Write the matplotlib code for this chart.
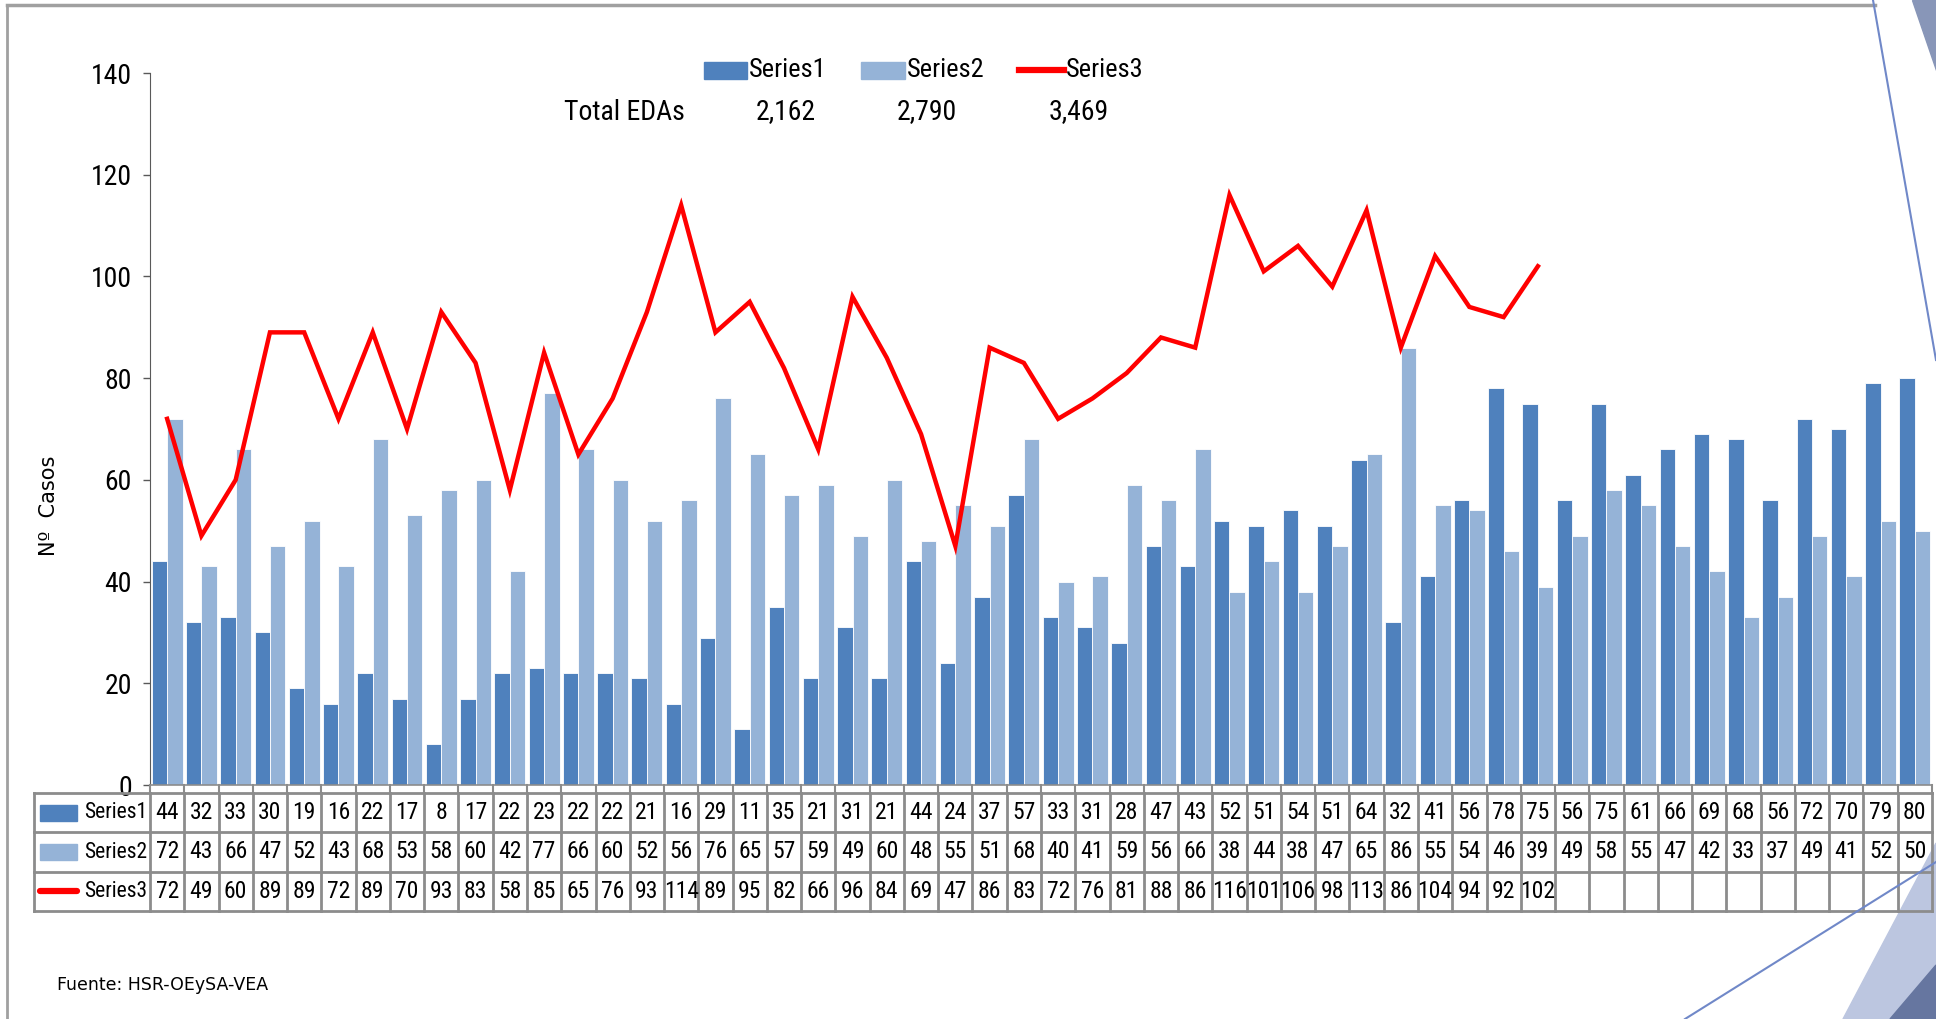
import matplotlib
matplotlib.use("Agg")
import matplotlib.pyplot as plt
from matplotlib.patches import Rectangle, Polygon
from matplotlib.lines import Line2D
from matplotlib import font_manager
import numpy as np

series1 = [44,32,33,30,19,16,22,17,8,17,22,23,22,22,21,16,29,11,35,21,31,21,44,24,37,57,33,31,28,47,43,52,51,54,51,64,32,41,56,78,75,56,75,61,66,69,68,56,72,70,79,80]
series2 = [72,43,66,47,52,43,68,53,58,60,42,77,66,60,52,56,76,65,57,59,49,60,48,55,51,68,40,41,59,56,66,38,44,38,47,65,86,55,54,46,39,49,58,55,47,42,33,37,49,41,52,50]
series3 = [72,49,60,89,89,72,89,70,93,83,58,85,65,76,93,114,89,95,82,66,96,84,69,47,86,83,72,76,81,88,86,116,101,106,98,113,86,104,94,92,102]
series_names = ["Series1", "Series2", "Series3"]
totals = ["2,162", "2,790", "3,469"]
yticks = [0, 20, 40, 60, 80, 100, 120, 140]

C1 = "#4F81BD"
C2 = "#95B3D7"
C3 = "#FF0000"
GRID = "#8C8C8C"

# pick a condensed face if one is installed
names = {f.name for f in font_manager.fontManager.ttflist}
NARROW = None
for cand in ['Liberation Sans Narrow', 'Roboto Condensed', 'Open Sans Condensed', 'DejaVu Sans Condensed']:
    if cand in names:
        NARROW = dict(family=[cand, 'DejaVu Sans'])
        break
if NARROW is None:
    dv = [f for f in font_manager.fontManager.ttflist if f.name == 'DejaVu Sans' and 'ondensed' in str(f.stretch)]
    if dv:
        NARROW = dict(family=['DejaVu Sans'], fontstretch='condensed')
    else:
        NARROW = dict(family=['Roboto', 'DejaVu Sans'])

W, H = 1936, 1019
fig = plt.figure(figsize=(W/100, H/100), dpi=100)

def fx(px): return px / W
def fy(py): return 1 - py / H

ax_left, ax_right, ax_top, ax_bot = 150, 1932, 73, 785
ax = fig.add_axes([fx(ax_left), fy(ax_bot), fx(ax_right - ax_left), (ax_bot - ax_top) / H])
n = len(series1)
x = np.arange(n)
bw = 0.45
ax.bar(x - bw/2, series1, width=bw, color=C1, edgecolor="white", linewidth=0.6, zorder=2)
ax.bar(x + bw/2, series2, width=bw, color=C2, edgecolor="white", linewidth=0.6, zorder=2)
ax.plot(np.arange(len(series3)), series3, color=C3, linewidth=3.2, zorder=3, solid_joinstyle="miter")
ax.set_xlim(-0.5, n - 0.5)
ax.set_ylim(0, 140)
ax.set_yticks(yticks)
ax.set_yticklabels([str(v) for v in yticks], fontsize=20, **NARROW)
ax.tick_params(axis="y", direction="out", length=5, width=1, color="#595959", pad=8)
ax.set_xticks([])
for s in ["top", "right"]:
    ax.spines[s].set_visible(False)
ax.spines["left"].set_color("#595959")
ax.spines["bottom"].set_color(GRID)
ax.spines["bottom"].set_linewidth(1.2)

# table
tb_left, tb_top, tb_bot = 34, 793, 911
unit = (ax_right - ax_left) / n
xl = -0.5 - (ax_left - tb_left) / unit
tax = fig.add_axes([fx(tb_left), fy(tb_bot), fx(ax_right - tb_left), (tb_bot - tb_top) / H])
tax.set_xlim(xl, n - 0.5)
tax.set_ylim(0, 3)
tax.axis("off")
lw = 2.0
for k in range(4):
    tax.plot([xl, n - 0.5], [k, k], color=GRID, lw=lw, clip_on=False)
for k in range(n + 1):
    tax.plot([k - 0.5, k - 0.5], [0, 3], color=GRID, lw=lw, clip_on=False)
tax.plot([xl, xl], [0, 3], color=GRID, lw=lw, clip_on=False)
for k in range(n + 1):
    tax.plot([k - 0.5, k - 0.5], [3, 3 + 8 / (tb_bot - tb_top) * 3], color=GRID, lw=1.5, clip_on=False)

rows = [series1, series2, series3]
for r, vals in enumerate(rows):
    yc = 2.5 - r
    for i, v in enumerate(vals):
        tax.text(i, yc, str(v), ha="center", va="center", fontsize=17, **NARROW)
    sx0 = -0.5 - (ax_left - 40) / unit
    sx1 = -0.5 - (ax_left - 77) / unit
    if r < 2:
        tax.add_patch(Rectangle((sx0, yc - 0.2), sx1 - sx0, 0.4, color=[C1, C2][r]))
    else:
        tax.plot([sx0, sx1], [yc, yc], color=C3, lw=4.5, solid_capstyle="round")
    tax.text(-0.58, yc, series_names[r], ha="right", va="center", fontsize=15.5, **NARROW)

# legend
leg_y = 70
fig.add_artist(Rectangle((fx(704), fy(79)), fx(43), (79 - 62) / H, color=C1))
fig.text(fx(749), fy(leg_y), series_names[0], ha="left", va="center", fontsize=19, **NARROW)
fig.add_artist(Rectangle((fx(861), fy(79)), fx(44), (79 - 62) / H, color=C2))
fig.text(fx(907), fy(leg_y), series_names[1], ha="left", va="center", fontsize=19, **NARROW)
fig.add_artist(Line2D([fx(1019), fx(1064)], [fy(leg_y), fy(leg_y)], color=C3, lw=4.5))
fig.text(fx(1066), fy(leg_y), series_names[2], ha="left", va="center", fontsize=19, **NARROW)

ty = 112
fig.text(fx(564), fy(ty), "Total EDAs", ha="left", va="center", fontsize=20, **NARROW)
for t, xr in zip(totals, [816, 957, 1109]):
    fig.text(fx(xr), fy(ty), t, ha="right", va="center", fontsize=20, **NARROW)

fig.text(fx(49), fy(506), "Nº  Casos", rotation=90, ha="center", va="center", fontsize=15)
fig.text(fx(57), fy(985), "Fuente: HSR-OEySA-VEA", ha="left", va="center", fontsize=12.5)

# frame lines
fig.add_artist(Line2D([fx(7), fx(1875)], [fy(5), fy(5)], color="#A0A0A0", lw=2.5))
fig.add_artist(Line2D([fx(7), fx(7)], [fy(5), fy(1019)], color="#A0A0A0", lw=2))

# slide decorations
fig.add_artist(Polygon([(fx(1843), fy(1019)), (fx(1936), fy(843)), (fx(1936), fy(1019))], closed=True, color="#BCC6E0", zorder=-1))
fig.add_artist(Polygon([(fx(1890), fy(1019)), (fx(1936), fy(965)), (fx(1936), fy(1019))], closed=True, color="#6676A0", zorder=-1))
fig.add_artist(Polygon([(fx(1912), fy(0)), (fx(1936), fy(0)), (fx(1936), fy(70))], closed=True, color="#8896B8", zorder=-1))
fig.add_artist(Line2D([fx(1873), fx(1936)], [fy(0), fy(360)], color="#7088C8", lw=1.5))
fig.add_artist(Line2D([fx(1685), fx(1936)], [fy(1019), fy(862)], color="#7088C8", lw=1.5))

fig.savefig("out.png", dpi=100)
